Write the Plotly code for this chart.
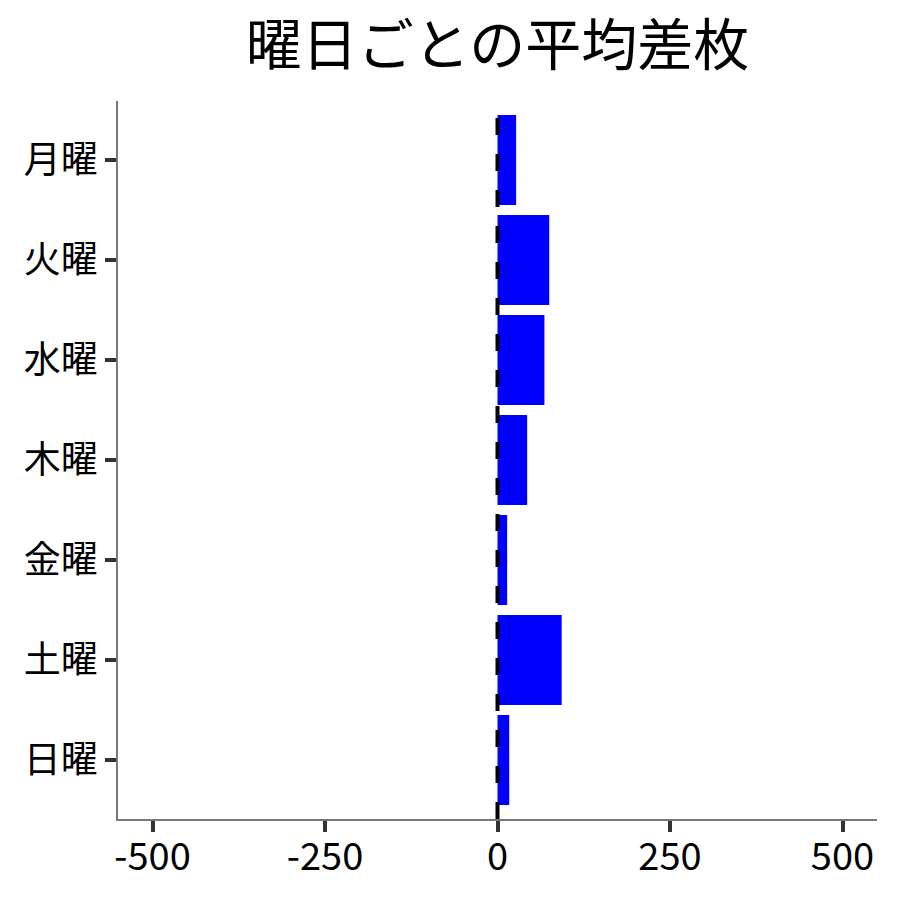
import plotly.graph_objects as go

days = ["月曜", "火曜", "水曜", "木曜", "金曜", "土曜", "日曜"]
avg_diff = [27, 75, 68, 43, 14, 93, 17]
x_tick_vals = [-500, -250, 0, 250, 500]
x_tick_text = ["-500", "-250", "0", "250", "500"]
title_text = "曜日ごとの平均差枚"

FONT = "Noto Sans CJK JP"

fig = go.Figure()
fig.add_trace(go.Bar(
    y=days, x=avg_diff, orientation="h",
    marker=dict(color="#0000FF", line=dict(width=0)),
))

fig.add_shape(type="line", xref="x", yref="paper", x0=0, x1=0, y0=0, y1=1,
              line=dict(color="black", width=4, dash="17px,19px"), layer="above")

fig.update_layout(
    width=900, height=900,
    margin=dict(l=110, r=31, t=93, b=89),
    paper_bgcolor="white", plot_bgcolor="white",
    showlegend=False,
    bargap=0.1,
    font=dict(family=FONT, color="black"),
    title=dict(text=title_text, x=0.5, xref="paper", y=1 - 37 / 900, yref="container",
               xanchor="center", yanchor="middle",
               font=dict(family=FONT, size=56, color="black")),
)
fig.update_xaxes(
    range=[-550, 550], tickvals=x_tick_vals, ticktext=x_tick_text,
    showgrid=False, zeroline=False,
    showline=True, linecolor="#777777", linewidth=1.5,
    ticks="outside", ticklen=11, tickwidth=3.5, tickcolor="#333333",
    ticklabelstandoff=-7,
    tickfont=dict(family=FONT, size=38, color="black"),
)
fig.update_yaxes(
    type="category", categoryorder="array", categoryarray=days,
    range=[6.59, -0.59],
    showgrid=False, zeroline=False,
    showline=True, linecolor="#777777", linewidth=1.5,
    ticks="outside", ticklen=11, tickwidth=3.5, tickcolor="#333333",
    tickfont=dict(family=FONT, size=37, color="black"),
)

fig.write_html("out.html")
